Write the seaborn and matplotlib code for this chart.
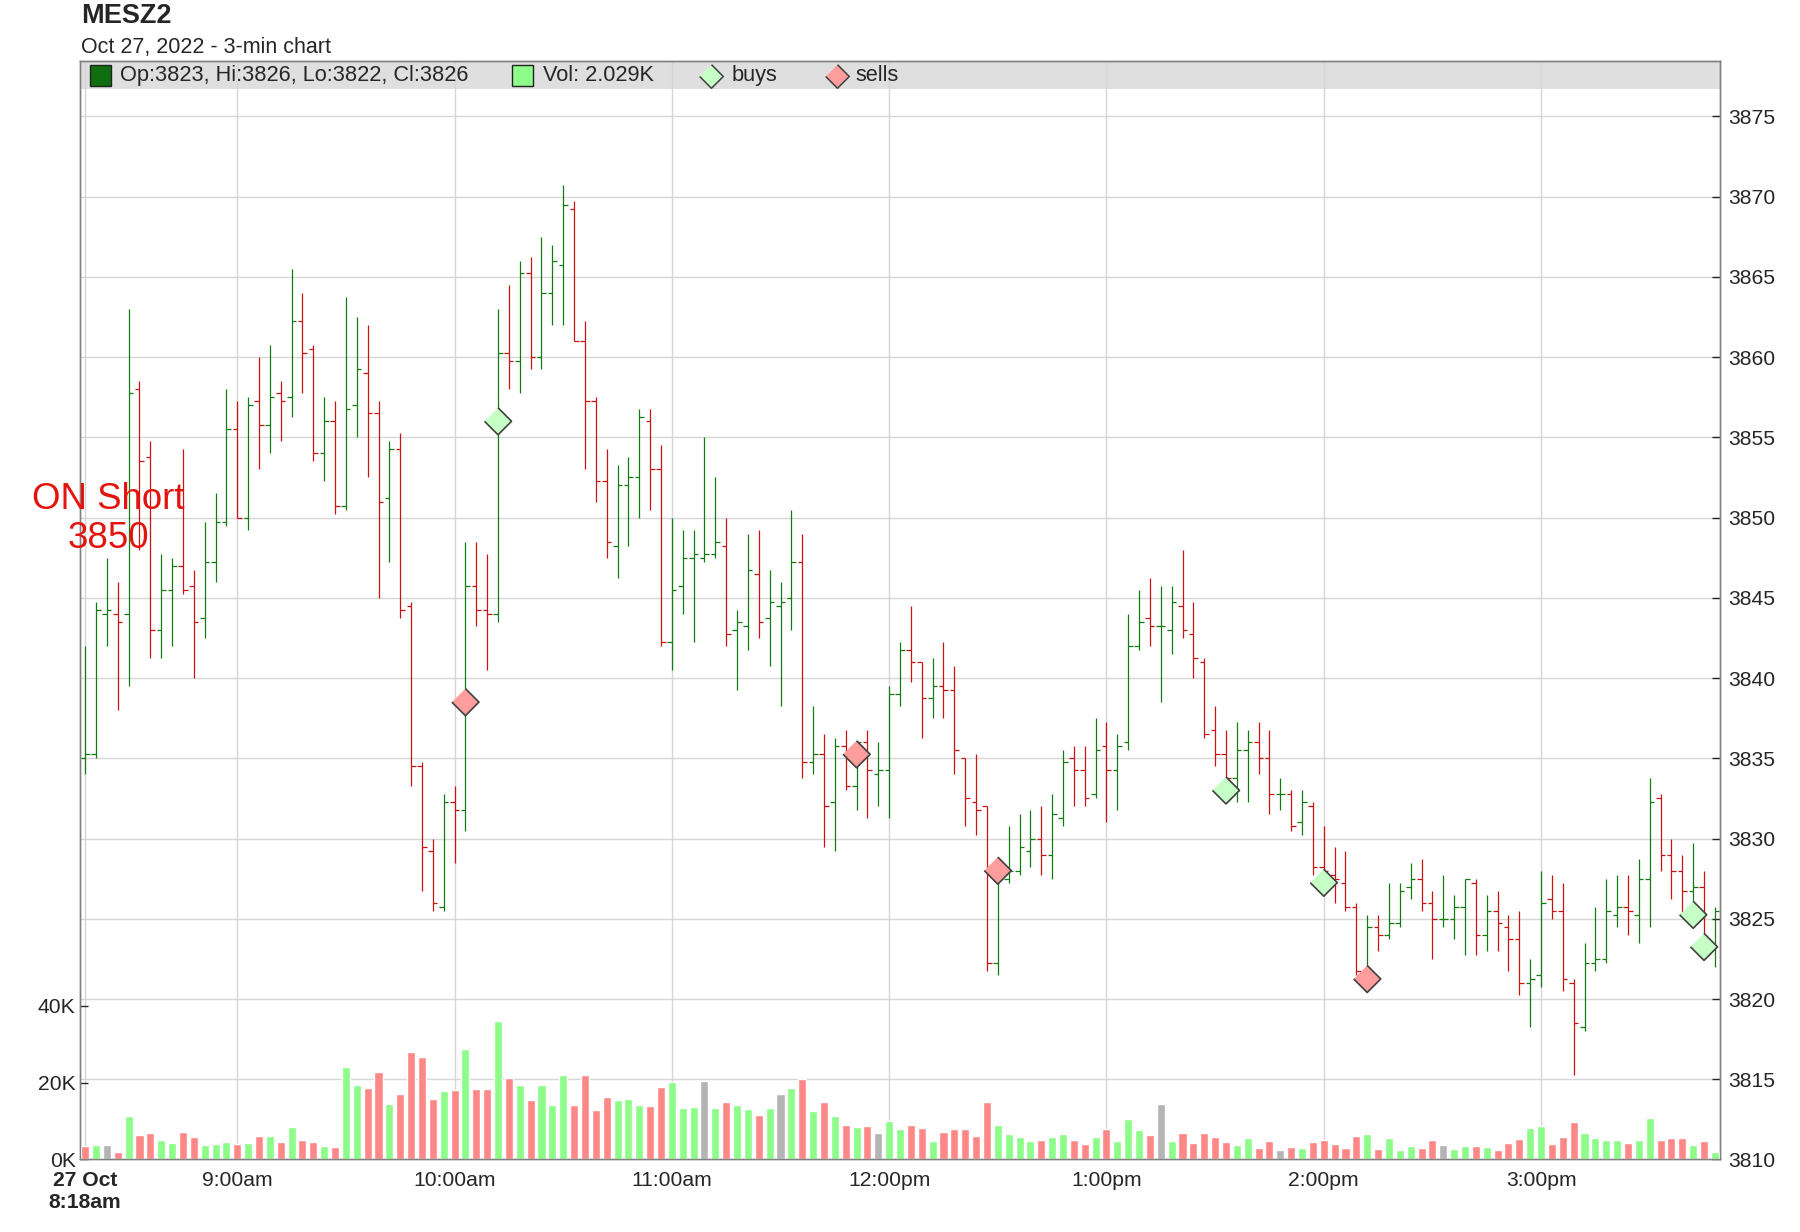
import numpy as np
import pandas as pd
import matplotlib
matplotlib.use("Agg")
import matplotlib.pyplot as plt
from matplotlib.patches import Rectangle
from matplotlib.lines import Line2D
import seaborn as sns

# ---- data (27 Oct 2022, first bar 8:18am) ----
opens = [
    3835.0, 3835.25, 3844.0, 3844.0, 3844.0, 3858.0, 3853.75, 3843.0, 3845.5, 3847.0,
    3845.75, 3843.75, 3847.25, 3849.75, 3855.5, 3850.0, 3857.25, 3855.75, 3857.75, 3857.5,
    3862.25, 3860.5, 3854.0, 3856.0, 3850.75, 3857.0, 3859.0, 3856.5, 3851.25, 3854.25,
    3844.5, 3834.5, 3829.25, 3825.75, 3832.25, 3831.75, 3845.75, 3844.25, 3844.0, 3860.25,
    3859.75, 3865.25, 3860.0, 3864.0, 3865.75, 3869.25, 3861.0, 3857.25, 3852.25, 3848.25,
    3852.0, 3852.5, 3856.0, 3853.0, 3842.25, 3845.75, 3847.5, 3847.5, 3847.75, 3848.25,
    3843.0, 3843.25, 3846.5, 3843.75, 3844.5, 3845.0, 3847.25, 3834.75, 3835.25, 3832.25,
    3835.75, 3833.25, 3836.0, 3834.0, 3834.25, 3839.0, 3841.75, 3841.0, 3838.75, 3839.5,
    3839.25, 3835.0, 3832.25, 3832.0, 3822.25, 3827.5, 3828.0, 3829.25, 3830.0, 3829.0,
    3831.25, 3835.0, 3834.25, 3832.75, 3835.75, 3834.25, 3836.0, 3842.0, 3843.75, 3843.25,
    3843.0, 3844.5, 3842.75, 3841.0, 3836.75, 3835.25, 3833.75, 3835.5, 3836.0, 3835.0,
    3832.75, 3832.75, 3831.0, 3832.0, 3828.25, 3827.75, 3827.25, 3825.75, 3821.25, 3824.5,
    3824.0, 3824.75, 3827.0, 3827.5, 3826.0, 3825.0, 3825.0, 3825.75, 3827.25, 3824.0,
    3825.5, 3824.5, 3823.75, 3821.0, 3821.5, 3826.25, 3825.5, 3821.0, 3818.25, 3822.25,
    3822.5, 3825.25, 3825.75, 3825.25, 3827.5, 3832.5, 3829.0, 3828.0, 3826.75, 3827.0,
    3823.25,
]
highs = [
    3842.0, 3844.75, 3847.5, 3846.0, 3863.0, 3858.5, 3854.75, 3847.75, 3847.5, 3854.25,
    3846.75, 3849.75, 3851.5, 3858.0, 3857.25, 3857.5, 3860.0, 3860.75, 3858.5, 3865.5,
    3864.0, 3860.75, 3857.5, 3857.25, 3863.75, 3862.5, 3862.0, 3857.25, 3854.75, 3855.25,
    3844.75, 3834.75, 3830.0, 3832.75, 3833.25, 3848.5, 3848.5, 3847.75, 3863.0, 3864.5,
    3866.0, 3866.25, 3867.5, 3867.0, 3870.75, 3869.75, 3862.25, 3857.5, 3854.25, 3853.25,
    3853.75, 3856.75, 3856.75, 3854.5, 3850.0, 3849.25, 3849.25, 3855.0, 3852.5, 3850.0,
    3844.25, 3849.0, 3849.25, 3846.75, 3846.0, 3850.5, 3849.0, 3838.25, 3836.5, 3836.25,
    3836.75, 3836.0, 3836.75, 3836.0, 3839.5, 3842.25, 3844.5, 3841.0, 3841.25, 3842.25,
    3840.75, 3835.0, 3835.25, 3832.0, 3828.75, 3830.75, 3831.5, 3831.75, 3832.0, 3832.75,
    3835.5, 3835.75, 3835.75, 3837.5, 3837.25, 3836.5, 3844.0, 3845.5, 3846.25, 3845.75,
    3845.75, 3848.0, 3844.75, 3841.25, 3838.25, 3836.75, 3837.25, 3836.75, 3837.25, 3836.75,
    3833.75, 3833.0, 3833.0, 3832.25, 3830.75, 3829.5, 3829.25, 3826.0, 3825.25, 3825.25,
    3827.25, 3827.25, 3828.5, 3828.75, 3826.75, 3827.75, 3826.5, 3827.5, 3827.5, 3826.5,
    3826.75, 3825.25, 3825.5, 3822.5, 3828.0, 3827.75, 3827.25, 3821.25, 3823.5, 3825.75,
    3827.5, 3827.75, 3827.75, 3828.75, 3833.75, 3832.75, 3830.0, 3829.0, 3829.75, 3828.0,
    3825.75,
]
lows = [
    3834.0, 3835.0, 3842.0, 3838.0, 3839.5, 3848.0, 3841.25, 3841.25, 3842.0, 3845.25,
    3840.0, 3842.5, 3846.0, 3849.5, 3850.0, 3849.25, 3853.0, 3854.0, 3854.75, 3856.25,
    3857.75, 3853.5, 3852.25, 3850.25, 3850.5, 3855.0, 3852.5, 3845.0, 3847.25, 3843.75,
    3833.25, 3826.75, 3825.5, 3825.5, 3828.5, 3830.5, 3843.25, 3840.5, 3843.5, 3858.0,
    3857.75, 3859.25, 3859.25, 3862.0, 3862.0, 3861.0, 3853.0, 3851.0, 3847.5, 3846.25,
    3848.25, 3850.0, 3850.5, 3842.0, 3840.5, 3844.0, 3842.25, 3847.25, 3847.5, 3842.0,
    3839.25, 3841.75, 3842.5, 3840.75, 3838.25, 3843.0, 3833.75, 3834.0, 3829.5, 3829.25,
    3833.0, 3831.75, 3831.25, 3832.0, 3831.25, 3838.25, 3839.75, 3836.25, 3837.5, 3837.5,
    3834.0, 3830.75, 3830.25, 3821.75, 3821.5, 3827.25, 3827.75, 3828.25, 3827.75, 3827.5,
    3830.75, 3832.0, 3832.0, 3832.5, 3831.0, 3831.75, 3835.5, 3841.75, 3842.0, 3838.5,
    3841.5, 3842.5, 3840.0, 3836.25, 3834.5, 3833.0, 3832.25, 3832.25, 3834.0, 3831.5,
    3831.75, 3830.5, 3830.25, 3827.75, 3827.0, 3826.0, 3825.5, 3821.5, 3821.25, 3823.0,
    3823.75, 3824.5, 3826.25, 3825.5, 3822.5, 3824.5, 3823.75, 3822.75, 3822.75, 3823.0,
    3823.0, 3821.75, 3820.25, 3818.25, 3820.75, 3825.0, 3820.5, 3815.25, 3818.0, 3821.75,
    3822.25, 3824.5, 3824.0, 3823.5, 3824.5, 3828.0, 3826.25, 3825.25, 3825.25, 3823.0,
    3822.0,
]
closes = [
    3835.25, 3844.25, 3844.25, 3843.5, 3857.75, 3853.5, 3843.0, 3845.5, 3847.0, 3845.5,
    3843.5, 3847.25, 3849.75, 3855.5, 3850.0, 3857.0, 3855.75, 3857.5, 3857.25, 3862.25,
    3860.25, 3854.0, 3856.0, 3850.75, 3856.75, 3859.25, 3856.5, 3851.0, 3854.25, 3844.25,
    3834.5, 3829.5, 3826.0, 3832.25, 3831.75, 3845.75, 3844.25, 3844.0, 3860.25, 3859.75,
    3865.25, 3860.0, 3864.0, 3866.0, 3869.5, 3861.0, 3857.25, 3852.25, 3848.5, 3852.0,
    3852.5, 3856.25, 3853.0, 3842.25, 3845.5, 3847.5, 3847.75, 3847.75, 3848.5, 3842.75,
    3843.5, 3846.75, 3843.5, 3844.75, 3844.75, 3847.25, 3834.75, 3835.25, 3832.0, 3835.75,
    3833.25, 3836.0, 3834.25, 3834.25, 3839.0, 3841.75, 3841.0, 3838.75, 3839.5, 3839.25,
    3835.5, 3832.5, 3831.75, 3822.25, 3827.5, 3828.0, 3829.5, 3830.0, 3829.0, 3831.5,
    3834.75, 3834.25, 3832.5, 3835.5, 3834.25, 3835.75, 3842.0, 3843.5, 3843.25, 3843.25,
    3844.75, 3843.0, 3841.25, 3836.5, 3835.25, 3833.75, 3835.5, 3836.0, 3835.0, 3832.75,
    3832.75, 3830.75, 3832.25, 3828.25, 3828.0, 3827.5, 3825.75, 3821.75, 3824.5, 3824.0,
    3824.75, 3826.75, 3827.5, 3826.0, 3825.0, 3825.0, 3825.75, 3827.5, 3824.0, 3825.5,
    3824.75, 3823.75, 3821.0, 3821.25, 3826.0, 3825.5, 3821.25, 3818.5, 3822.25, 3822.5,
    3825.5, 3825.75, 3825.5, 3827.5, 3832.25, 3829.0, 3828.0, 3826.75, 3827.0, 3823.25,
    3825.5,
]
volumes = [
    3400, 3670, 3670, 1830, 11260, 6290, 6810, 4980, 4190, 7070,
    5760, 3670, 3930, 4450, 3930, 4190, 6020, 6020, 4450, 8380,
    4980, 4450, 3400, 3140, 24100, 19380, 18600, 22790, 14400, 17020,
    28020, 26710, 15710, 17810, 18070, 28810, 18330, 18330, 36140, 21210,
    19380, 15450, 19380, 14140, 22000, 14140, 22000, 12830, 16240, 15450,
    15710, 14140, 13880, 18860, 20170, 13360, 13620, 20430, 13360, 14930,
    14140, 13100, 11520, 13360, 17020, 18600, 20950, 12570, 14930, 11260,
    8900, 8380, 8640, 6810, 9950, 7860, 8900, 8120, 4710, 7070,
    7860, 7860, 6020, 14930, 8900, 6550, 5760, 4710, 4980, 5760,
    6550, 4980, 3930, 5760, 7860, 4710, 10480, 7600, 6290, 14400,
    4710, 6810, 4190, 6810, 5760, 4450, 3670, 5500, 2880, 4710,
    2360, 3140, 2880, 4450, 4980, 3930, 2880, 6020, 6550, 2620,
    5500, 2360, 3400, 2880, 4980, 3670, 2620, 3400, 3400, 3140,
    2360, 4190, 5240, 8120, 8640, 3930, 5760, 9690, 6810, 5500,
    4980, 4980, 4190, 4980, 10740, 4980, 5500, 5500, 3670, 4710,
    2029,
]
prior_close = 3840.0

buy_bars = [38, 105, 114, 148, 149]
buy_prices = [3856.0, 3833.0, 3827.25, 3825.25, 3823.25]
sell_bars = [35, 71, 84, 118]
sell_prices = [3838.5, 3835.25, 3828.0, 3821.25]

tick_bars = [0, 14, 34, 54, 74, 94, 114, 134]
tick_labels = ["27 Oct\n8:18am", "9:00am", "10:00am", "11:00am",
               "12:00pm", "1:00pm", "2:00pm", "3:00pm"]
price_ticks = list(range(3810, 3876, 5))
vol_ticks = [0, 20000, 40000]
vol_tick_labels = ["0K", "20K", "40K"]

# ---- styling ----
sns.set_style("white")
plt.rcParams["font.family"] = ["Liberation Sans", "DejaVu Sans"]

GREEN = "#127c12"
RED = "#cc1111"
GRID = "#d6d6d6"
SPINE = "#808080"

o = np.array(opens)
h = np.array(highs)
l = np.array(lows)
c = np.array(closes)
n = len(c)
bars = np.arange(n)

prev_close = np.r_[prior_close, c[:-1]]
move = np.where(c > prev_close, "up", np.where(c < prev_close, "down", "flat"))
vol_df = pd.DataFrame({"bar": bars, "volume": volumes, "move": move})

trade_df = pd.DataFrame({
    "bar": buy_bars + sell_bars,
    "price": buy_prices + sell_prices,
    "side": ["buy"] * len(buy_bars) + ["sell"] * len(sell_bars),
})

fig = plt.figure(figsize=(18, 12.32), dpi=100)
axp = fig.add_axes([0.04472, 0.05885, 0.91083, 0.89164])
axv = axp.twinx()

# volume bars (left scale)
sns.barplot(data=vol_df, x="bar", y="volume", hue="move",
            palette={"up": "#8dfc88", "down": "#fe8888", "flat": "#b4b4b4"},
            native_scale=True, dodge=False, width=0.74, saturation=1,
            errorbar=None, legend=False, ax=axv)

# OHLC bars (right scale)
up = c >= o
for mask, col in [(up, GREEN), (~up, RED)]:
    axp.vlines(bars[mask], l[mask], h[mask], colors=col, lw=0.9, zorder=3)
    axp.hlines(o[mask], bars[mask] - 0.42, bars[mask], colors=col, lw=0.9, zorder=3)
    axp.hlines(c[mask], bars[mask], bars[mask] + 0.42, colors=col, lw=0.9, zorder=3)

diamond = [(0, 1), (1, 0), (0, -1), (-1, 0)]
sns.scatterplot(data=trade_df, x="bar", y="price", hue="side",
                palette={"buy": "#c6ffc6", "sell": "#ff9c9c"},
                marker=diamond, s=380, edgecolor="#404040", linewidth=1.2,
                legend=False, ax=axp, zorder=5)

# axes layout
axp.set_xlim(-0.43, n - 1 + 0.47)
axp.set_ylim(3810, 3878.45)
axv.set_ylim(0, 286000)
axp.set_xticks(tick_bars)
axp.set_xticklabels(tick_labels)
axp.get_xticklabels()[0].set_fontweight("bold")
axp.set_yticks(price_ticks)
axv.set_yticks(vol_ticks)
axv.set_yticklabels(vol_tick_labels)
for a in (axp, axv):
    a.set_xlabel("")
    a.set_ylabel("")

axp.yaxis.tick_right()
axv.yaxis.tick_left()
axp.tick_params(axis="y", direction="in", length=5.8, width=1, pad=6,
                labelsize=15.2, right=True, left=False, labelright=True, labelleft=False)
axv.tick_params(axis="y", direction="in", length=5.8, width=1, pad=3.5,
                labelsize=15.2, left=True, right=False, labelleft=True, labelright=False)
axp.tick_params(axis="x", direction="out", length=3, width=1, pad=5.5, labelsize=15.2)

axp.grid(True, color=GRID, lw=1.0)
axp.set_axisbelow(True)
for a in (axp, axv):
    for sp in a.spines.values():
        sp.set_color(SPINE)
        sp.set_linewidth(1.0)

# legend band across the top of the plot
axp.add_patch(Rectangle((0, 0.97451), 1, 0.02549, transform=axp.transAxes,
                        facecolor="#dfdfdf", edgecolor="none", zorder=0.2))

ly = 1 - 75.5 / 1232
sq_w, sq_h = 21 / 1800, 21 / 1232
fig.add_artist(Rectangle((90 / 1800, ly - sq_h / 2), sq_w, sq_h, transform=fig.transFigure,
                         facecolor="#0f6e0f", edgecolor="#222222", lw=1))
fig.text(119.5 / 1800, ly, "Op:3823, Hi:3826, Lo:3822, Cl:3826", fontsize=15.7, va="center")
fig.add_artist(Rectangle((512 / 1800, ly - sq_h / 2), sq_w, sq_h, transform=fig.transFigure,
                         facecolor="#8dfc88", edgecolor="#222222", lw=1))
fig.text(542.6 / 1800, ly, "Vol: 2.029K", fontsize=15.7, va="center")
fig.add_artist(Line2D([711 / 1800], [ly], transform=fig.transFigure, marker=diamond,
                      markersize=17, mfc="#c6ffc6", mec="#404040", mew=1.1, ls="none"))
fig.text(731.8 / 1800, ly, "buys", fontsize=15.7, va="center")
fig.add_artist(Line2D([837 / 1800], [ly], transform=fig.transFigure, marker=diamond,
                      markersize=17, mfc="#ff9c9c", mec="#404040", mew=1.1, ls="none"))
fig.text(855.5 / 1800, ly, "sells", fontsize=15.7, va="center")

# titles
fig.text(81 / 1800, 1 - 16 / 1232, "MESZ2", fontsize=19.5, fontweight="bold", va="center")
fig.text(81 / 1800, 1 - 47 / 1232, "Oct 27, 2022 - 3-min chart", fontsize=15.5, va="center")

# annotation
fig.text(108 / 1800, 1 - 519 / 1232, "ON Short\n3850", fontsize=26.4, color="#e3140e",
         ha="center", va="center", linespacing=1.12)

fig.savefig("out.png", dpi=100)
